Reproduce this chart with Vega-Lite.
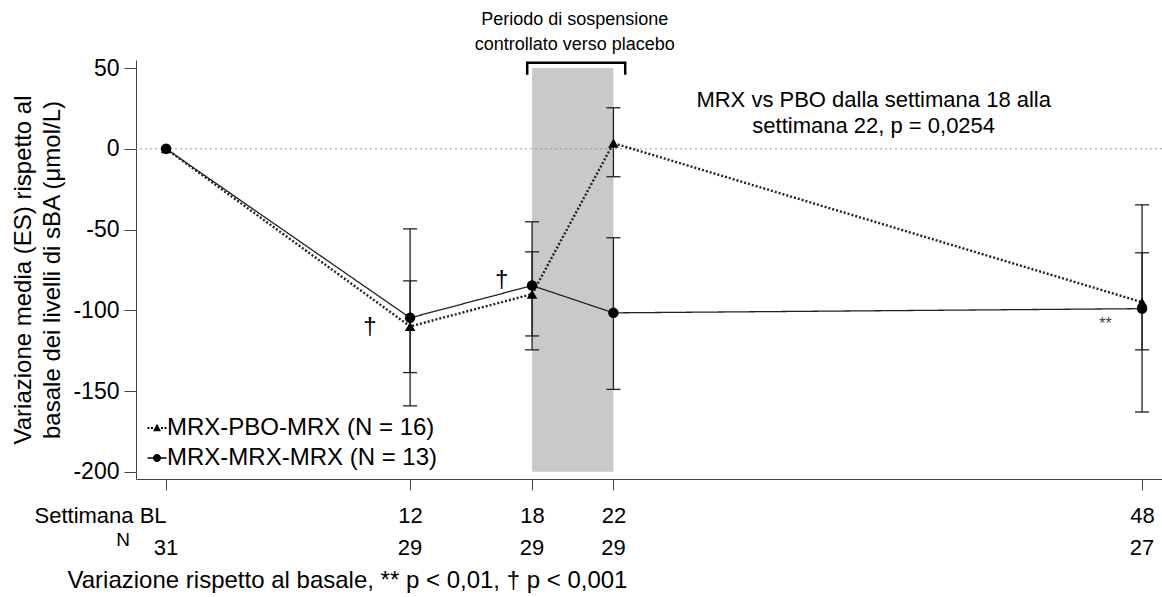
{
  "$schema": "https://vega.github.io/schema/vega-lite/v6.json",
  "width": 1026,
  "height": 419,
  "autosize": {"type": "none"},
  "padding": {"left": 136, "top": 60, "right": 0, "bottom": 118},
  "background": "white",
  "config": {
    "font": "Liberation Sans",
    "view": {"stroke": null},
    "axis": {"grid": false, "domainColor": "#444", "tickColor": "#444", "labelColor": "black", "titleColor": "black", "labelFont": "Liberation Sans", "titleFont": "Liberation Sans", "titleFontWeight": "normal"},
    "text": {"font": "Liberation Sans", "color": "black"}
  },
  "datasets": {
    "series": [
      {"group": "MRX-PBO-MRX", "week": 0, "mean": 0, "lo": null, "hi": null},
      {"group": "MRX-PBO-MRX", "week": 12, "mean": -110, "lo": -138.6, "hi": -81.8},
      {"group": "MRX-PBO-MRX", "week": 18, "mean": -90, "lo": -115.9, "hi": -63.8},
      {"group": "MRX-PBO-MRX", "week": 22, "mean": 3.5, "lo": -17.3, "hi": 25.4},
      {"group": "MRX-PBO-MRX", "week": 48, "mean": -95, "lo": -124.5, "hi": -64.4},
      {"group": "MRX-MRX-MRX", "week": 0, "mean": 0, "lo": null, "hi": null},
      {"group": "MRX-MRX-MRX", "week": 12, "mean": -104.7, "lo": -159.2, "hi": -49.6},
      {"group": "MRX-MRX-MRX", "week": 18, "mean": -84.7, "lo": -124.5, "hi": -45.2},
      {"group": "MRX-MRX-MRX", "week": 22, "mean": -101.6, "lo": -149, "hi": -55.1},
      {"group": "MRX-MRX-MRX", "week": 48, "mean": -99, "lo": -163, "hi": -34.7}
    ],
    "ns": [
      {"week": 0, "n": "31"},
      {"week": 12, "n": "29"},
      {"week": 18, "n": "29"},
      {"week": 22, "n": "29"},
      {"week": 48, "n": "27"}
    ]
  },
  "layer": [
    {
      "data": {"values": [{"start": 18, "end": 22, "top": 50, "bottom": -200}]},
      "mark": {"type": "rect", "color": "#c9c9c9"},
      "encoding": {
        "x": {"field": "start", "type": "quantitative", "scale": {"domain": [-1.48, 48.98], "nice": false, "zero": false},
          "axis": {"values": [0, 12, 18, 22, 48], "tickSize": 11, "labelFontSize": 22, "labelPadding": 15,
            "labelExpr": "datum.value == 0 ? 'Settimana BL' : datum.label",
            "labelAlign": {"condition": {"test": "datum.value == 0", "value": "right"}, "value": "center"},
            "labelFlush": false, "labelOverlap": false,
            "title": "Variazione rispetto al basale, ** p < 0,01, † p < 0,001",
            "titleFontSize": 24, "titleX": 211, "titleY": 101, "titleBaseline": "middle", "titleAlign": "center", "titleAnchor": null}},
        "x2": {"field": "end"},
        "y": {"field": "top", "type": "quantitative", "scale": {"domain": [-204.5, 55], "nice": false, "zero": false},
          "axis": {"values": [50, 0, -50, -100, -150, -200], "tickSize": 12, "labelFontSize": 23, "labelPadding": 5,
            "labelExpr": "'' + datum.value",
            "title": ["Variazione media (ES) rispetto al", "basale dei livelli di sBA (μmol/L)"],
            "titleFontSize": 24, "titleLineHeight": 29, "titlePadding": 8}},
        "y2": {"field": "bottom"}
      }
    },
    {
      "data": {"values": [{"val": 0}]},
      "mark": {"type": "rule", "color": "#999", "strokeDash": [2, 3], "strokeWidth": 1},
      "encoding": {"y": {"field": "val", "type": "quantitative"}}
    },
    {
      "data": {"name": "series"},
      "transform": [{"filter": "datum.lo != null"}],
      "layer": [
        {"mark": {"type": "rule", "color": "#222", "strokeWidth": 1.3},
         "encoding": {"x": {"field": "week", "type": "quantitative"}, "y": {"field": "lo", "type": "quantitative"}, "y2": {"field": "hi"}}},
        {"mark": {"type": "tick", "orient": "horizontal", "color": "#222", "size": 14, "thickness": 1.3, "opacity": 1},
         "encoding": {"x": {"field": "week", "type": "quantitative"}, "y": {"field": "lo", "type": "quantitative"}}},
        {"mark": {"type": "tick", "orient": "horizontal", "color": "#222", "size": 14, "thickness": 1.3, "opacity": 1},
         "encoding": {"x": {"field": "week", "type": "quantitative"}, "y": {"field": "hi", "type": "quantitative"}}}
      ]
    },
    {
      "data": {"name": "series"},
      "mark": {"type": "line", "color": "#222"},
      "encoding": {
        "x": {"field": "week", "type": "quantitative"},
        "y": {"field": "mean", "type": "quantitative"},
        "detail": {"field": "group"},
        "strokeDash": {"field": "group", "type": "nominal", "scale": {"domain": ["MRX-PBO-MRX", "MRX-MRX-MRX"], "range": [[2, 2], [1, 0]]}, "legend": null},
        "strokeWidth": {"field": "group", "type": "nominal", "scale": {"domain": ["MRX-PBO-MRX", "MRX-MRX-MRX"], "range": [2.4, 1.3]}, "legend": null}
      }
    },
    {
      "data": {"name": "series"},
      "mark": {"type": "point", "filled": true, "color": "black", "opacity": 1},
      "encoding": {
        "x": {"field": "week", "type": "quantitative"},
        "y": {"field": "mean", "type": "quantitative"},
        "shape": {"field": "group", "type": "nominal", "scale": {"domain": ["MRX-PBO-MRX", "MRX-MRX-MRX"], "range": ["triangle-up", "circle"]}, "legend": null},
        "size": {"field": "group", "type": "nominal", "scale": {"domain": ["MRX-PBO-MRX", "MRX-MRX-MRX"], "range": [110, 110]}, "legend": null}
      }
    },
    {
      "data": {"values": []},
      "mark": {"type": "point", "filled": true, "color": "black", "opacity": 1},
      "encoding": {
        "x": {"field": "week", "type": "quantitative"},
        "y": {"field": "mean", "type": "quantitative"},
        "shape": {"field": "label", "type": "nominal",
          "scale": {"domain": ["MRX-PBO-MRX (N = 16)", "MRX-MRX-MRX (N = 13)"],
            "range": [
              "M-1.9,-0.2H-1.5V0.2H-1.9ZM-1.2,-0.2H-0.8V0.2H-1.2ZM0.8,-0.2H1.2V0.2H0.8ZM1.5,-0.2H1.9V0.2H1.5ZM0,-0.85L0.8,0.65L-0.8,0.65Z",
              "M-1.9,-0.13H1.9V0.13H-1.9ZM0.8,0A0.8,0.8 0 1 1 -0.8,0A0.8,0.8 0 1 1 0.8,0Z"
            ]},
          "legend": {"orient": "none", "legendX": 9, "legendY": 356, "title": null, "padding": 0,
            "labelFontSize": 24, "labelFont": "Liberation Sans", "labelColor": "black", "labelOffset": -2,
            "symbolSize": 100, "rowPadding": 6, "labelLimit": 400,
            "symbolFillColor": "black", "symbolStrokeColor": "black", "symbolStrokeWidth": 0, "symbolOpacity": 1,
            "encode": {"symbols": {"update": {"fill": {"value": "black"}, "opacity": {"value": 1}}}}}
        }
      }
    },
    {
      "data": {"values": [
        {"week": 17.76, "val": 45.8, "o": 1},
        {"week": 17.76, "val": 53.3, "o": 2},
        {"week": 22.58, "val": 53.3, "o": 3},
        {"week": 22.58, "val": 45.8, "o": 4}
      ]},
      "mark": {"type": "line", "color": "black", "strokeWidth": 2.5, "clip": false},
      "encoding": {"x": {"field": "week", "type": "quantitative"}, "y": {"field": "val", "type": "quantitative"}, "order": {"field": "o"}}
    },
    {
      "data": {"values": [
        {"week": 20.1, "val": 79.9, "label": "Periodo di sospensione"},
        {"week": 20.1, "val": 64.4, "label": "controllato verso placebo"}
      ]},
      "mark": {"type": "text", "fontSize": 18, "baseline": "middle", "align": "center"},
      "encoding": {"x": {"field": "week", "type": "quantitative"}, "y": {"field": "val", "type": "quantitative"}, "text": {"field": "label"}}
    },
    {
      "data": {"values": [
        {"week": 34.8, "val": 30.4, "label": "MRX vs PBO dalla settimana 18 alla"},
        {"week": 34.8, "val": 14.3, "label": "settimana 22, p = 0,0254"}
      ]},
      "mark": {"type": "text", "fontSize": 22, "baseline": "middle", "align": "center"},
      "encoding": {"x": {"field": "week", "type": "quantitative"}, "y": {"field": "val", "type": "quantitative"}, "text": {"field": "label"}}
    },
    {
      "data": {"values": [
        {"week": 10.03, "val": -110.3, "label": "†"},
        {"week": 16.5, "val": -81, "label": "†"}
      ]},
      "mark": {"type": "text", "fontSize": 24, "baseline": "middle", "align": "center"},
      "encoding": {"x": {"field": "week", "type": "quantitative"}, "y": {"field": "val", "type": "quantitative"}, "text": {"field": "label"}}
    },
    {
      "data": {"values": [{"week": 46.2, "val": -108.4, "label": "**"}]},
      "mark": {"type": "text", "fontSize": 16, "baseline": "middle", "align": "center", "color": "#444"},
      "encoding": {"x": {"field": "week", "type": "quantitative"}, "y": {"field": "val", "type": "quantitative"}, "text": {"field": "label"}}
    },
    {
      "data": {"name": "ns"},
      "mark": {"type": "text", "fontSize": 22, "baseline": "middle", "align": "center"},
      "encoding": {"x": {"field": "week", "type": "quantitative"}, "y": {"datum": -247.2, "type": "quantitative"}, "text": {"field": "n"}}
    },
    {
      "data": {"values": [{"week": -2.12, "val": -242.5, "label": "N"}]},
      "mark": {"type": "text", "fontSize": 19, "baseline": "middle", "align": "center"},
      "encoding": {"x": {"field": "week", "type": "quantitative"}, "y": {"field": "val", "type": "quantitative"}, "text": {"field": "label"}}
    }
  ],
  "resolve": {"scale": {"shape": "independent", "size": "independent"}}
}
